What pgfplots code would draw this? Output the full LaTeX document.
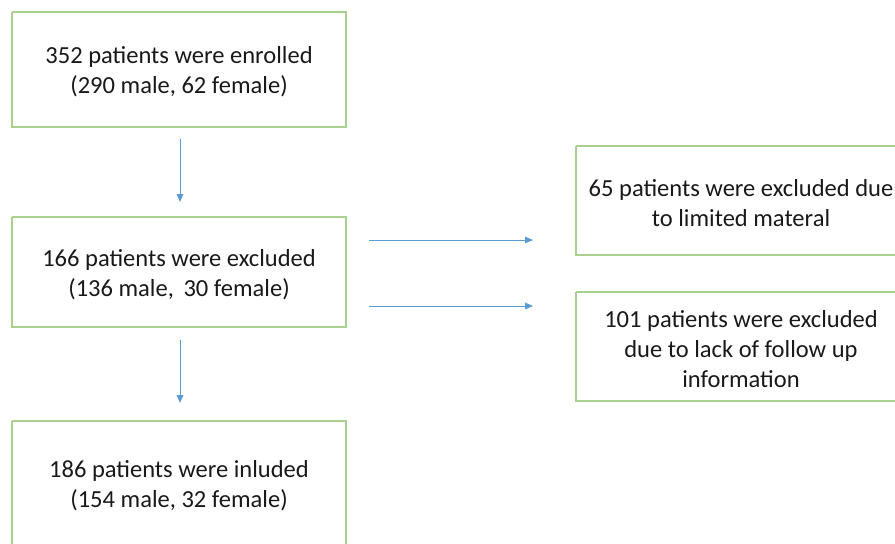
\documentclass[border=0pt]{standalone}
\usepackage{pgfplots}
\pgfplotsset{compat=1.18}
\usetikzlibrary{arrows.meta}
\usepackage{fontspec}
\setmainfont{Carlito}
\definecolor{boxg}{RGB}{169,208,142}
\definecolor{arr}{RGB}{91,155,213}
\definecolor{txt}{RGB}{25,25,25}
\begin{document}
\begin{tikzpicture}
\begin{axis}[scale only axis, width=671.25pt, height=407.25pt,
  xmin=0, xmax=895, ymin=0, ymax=543, y dir=reverse, hide axis, clip=true]
% boxes
\addplot[draw=boxg, line width=1pt, no marks] coordinates {(12,12)(346,12)(346,127)(12,127)(12,12)};
\addplot[draw=boxg, line width=1pt, no marks] coordinates {(12,217)(346,217)(346,327)(12,327)(12,217)};
\addplot[draw=boxg, line width=1pt, no marks] coordinates {(12,421)(346,421)(346,570)(12,570)(12,421)};
\addplot[draw=boxg, line width=1pt, no marks] coordinates {(576,146)(910,146)(910,255)(576,255)(576,146)};
\addplot[draw=boxg, line width=1pt, no marks] coordinates {(576,292)(910,292)(910,401)(576,401)(576,292)};
% arrows
\addplot[draw=arr, line width=0.75pt, no marks, -{Triangle[length=6pt,width=5pt]}] coordinates {(180,139)(180,202)};
\addplot[draw=arr, line width=0.75pt, no marks, -{Triangle[length=6pt,width=5pt]}] coordinates {(180,340)(180,403)};
\addplot[draw=arr, line width=0.75pt, no marks, -{Triangle[length=6pt,width=5pt]}] coordinates {(369,240)(533,240)};
\addplot[draw=arr, line width=0.75pt, no marks, -{Triangle[length=6pt,width=5pt]}] coordinates {(369,306)(533,306)};
% texts
\tikzset{lbl/.style={font=\fontsize{18.4}{22.5}\selectfont, align=center, text=txt, inner sep=0pt}}
\node[lbl] at (axis cs:179,72) {352 patients were enrolled\\(290 male, 62 female)};
\node[lbl] at (axis cs:179,275) {166 patients were excluded\\(136 male,\, 30 female)};
\node[lbl] at (axis cs:179,486) {186 patients were inluded\\(154 male, 32 female)};
\node[lbl] at (axis cs:741,203) {65 patients were excluded due\\to limited materal};
\node[lbl] at (axis cs:741,349) {101 patients were excluded\\due to lack of follow up\\information};
\end{axis}
\pgfresetboundingbox
\path (current axis.south west) rectangle (current axis.north east);
\end{tikzpicture}
\end{document}
